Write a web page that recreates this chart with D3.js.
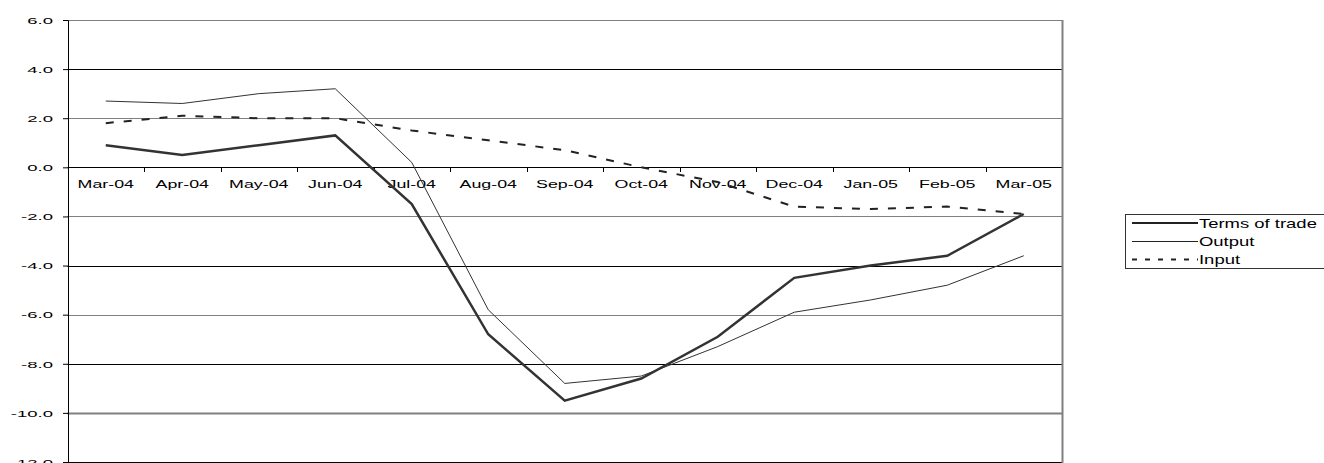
<!DOCTYPE html>
<html>
<head>
<meta charset="utf-8">
<script src="https://cdn.jsdelivr.net/npm/d3@7"></script>
<style>
  body { margin: 0; background: #fff; }
  svg { display: block; }
  text { font-family: "Liberation Sans", Arial, sans-serif; fill: #000; }
</style>
</head>
<body>
<svg id="chart" width="1324" height="463"></svg>
<script>
// data
var months = ["Mar-04", "Apr-04", "May-04", "Jun-04", "Jul-04", "Aug-04", "Sep-04",
              "Oct-04", "Nov-04", "Dec-04", "Jan-05", "Feb-05", "Mar-05"];
var termsOfTrade = [0.9, 0.5, 0.9, 1.3, -1.5, -6.8, -9.5, -8.6, -6.9, -4.5, -4.0, -3.6, -1.9];
var output = [2.7, 2.6, 3.0, 3.2, 0.2, -5.8, -8.8, -8.5, -7.3, -5.9, -5.4, -4.8, -3.6];
var input = [1.8, 2.1, 2.0, 2.0, 1.5, 1.1, 0.7, 0.0, -0.6, -1.6, -1.7, -1.6, -1.9];
var yTicks = [6, 4, 2, 0, -2, -4, -6, -8, -10, -12];
var seriesNames = ["Terms of trade", "Output", "Input"];

var svg = d3.select("#chart");

// plot area (window.top is taken, so own names)
var plotL = 67.5, plotR = 1062, plotT = 20, plotB = 462;

var x = d3.scaleBand().domain(months).range([plotL, plotR]);
var y = d3.scaleLinear().domain([-12, 6]).range([plotB, plotT]);
var fmt = d3.formatLocale({decimal: ".", thousands: ",", grouping: [3], currency: ["", ""], minus: "-"}).format(".1f");

// stretched text, the original is wide
function wideText(g, tx, ty, str, size, sx, anchor) {
  return g.append("text")
    .attr("transform", "translate(" + tx + "," + ty + ") scale(" + sx + ",1)")
    .attr("text-anchor", anchor)
    .style("font-size", size + "px")
    .text(str);
}

// gridlines, alternating grey / black like the scan
svg.append("g").selectAll("line").data(yTicks).join("line")
  .attr("x1", plotL).attr("x2", plotR)
  .attr("y1", function(d) { return Math.round(y(d)) + 0.5; })
  .attr("y2", function(d) { return Math.round(y(d)) + 0.5; })
  .attr("stroke", function(d, i) { return i % 2 == 0 ? "#808080" : "#000"; })
  .attr("stroke-width", function(d) { return d == -10 ? 2 : 1; });

// right border
svg.append("line")
  .attr("x1", plotR + 0.5).attr("x2", plotR + 0.5).attr("y1", plotT).attr("y2", plotB + 1)
  .attr("stroke", "#808080").attr("stroke-width", 2);

// y axis
var yAxis = svg.append("g")
  .attr("transform", "translate(" + Math.round(plotL) + ",0)")
  .call(d3.axisLeft(y).tickValues(yTicks).tickSize(5).tickFormat(""));
yAxis.select(".domain").attr("stroke", "#000");
yAxis.selectAll(".tick line").attr("stroke", "#000");
yAxis.selectAll(".tick").each(function(d) {
  wideText(d3.select(this), -15, 3.3, fmt(d), 9.5, 1.95, "end");
});

// x axis on zero line, ticks between categories
var xg = svg.append("g");
xg.selectAll("line").data(months.slice(1)).join("line")
  .attr("x1", function(d) { return Math.round(x(d)) + 0.5; })
  .attr("x2", function(d) { return Math.round(x(d)) + 0.5; })
  .attr("y1", Math.round(y(0))).attr("y2", Math.round(y(0)) + 5)
  .attr("stroke", "#000");
months.forEach(function(m) {
  wideText(xg, x(m) + x.bandwidth() / 2, 188, m, 11.5, 1.55, "middle");
});

// series
var line = d3.line()
  .x(function(d, i) { return x(months[i]) + x.bandwidth() / 2; })
  .y(function(d) { return y(d); });

svg.append("path").datum(input).attr("d", line)
  .attr("fill", "none").attr("stroke", "#222").attr("stroke-width", 2)
  .attr("stroke-dasharray", "8,10");
svg.append("path").datum(output).attr("d", line)
  .attr("fill", "none").attr("stroke", "#333").attr("stroke-width", 1);
svg.append("path").datum(termsOfTrade).attr("d", line)
  .attr("fill", "none").attr("stroke", "#333").attr("stroke-width", 2.5);

// legend
var lg = svg.append("g");
lg.append("rect").attr("x", 1125.5).attr("y", 214.5).attr("width", 210).attr("height", 54)
  .attr("fill", "#fff").attr("stroke", "#333");
var styles = [{w: 2, dash: null}, {w: 1, dash: null}, {w: 2, dash: "5,8"}];
var rowY = [223, 241.5, 259.5];
seriesNames.forEach(function(name, i) {
  lg.append("line").attr("x1", 1132).attr("x2", 1198).attr("y1", rowY[i]).attr("y2", rowY[i])
    .attr("stroke", "#222").attr("stroke-width", styles[i].w)
    .attr("stroke-dasharray", styles[i].dash);
  wideText(lg, 1199, rowY[i] + 4.7, name, 13, 1.42, "start");
});
</script>
</body>
</html>
